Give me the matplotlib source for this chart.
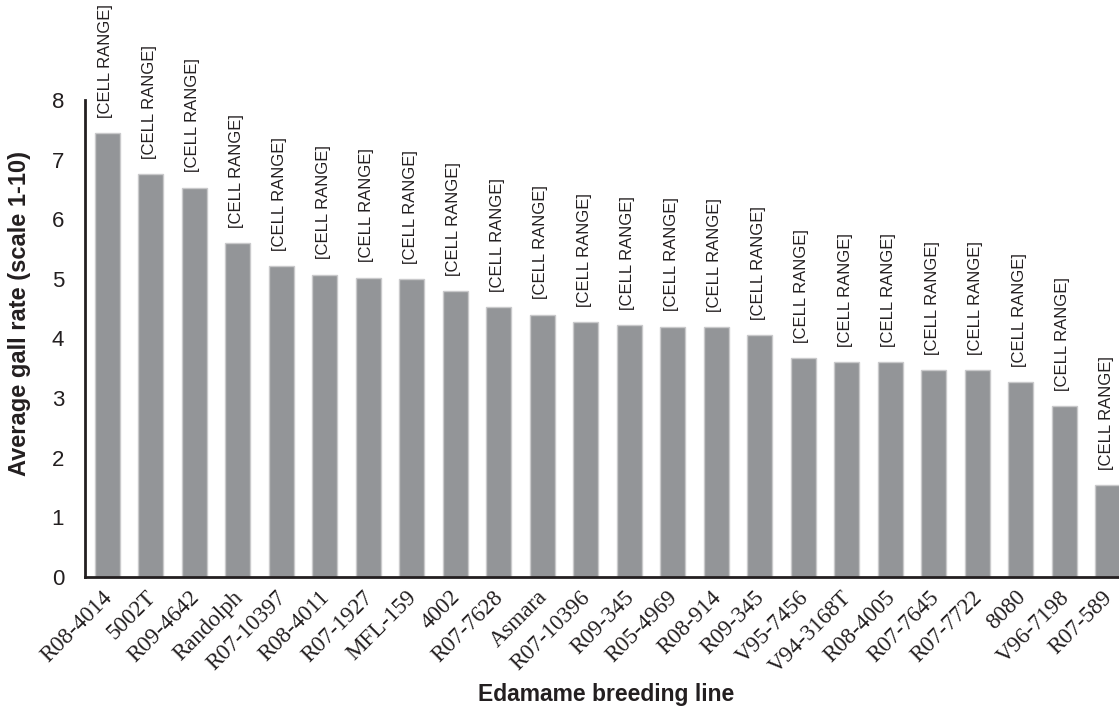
import numpy as np
import matplotlib.pyplot as plt
import matplotlib.transforms as mtransforms

# edamame lines, sorted by gall rate
lines = ['R08-4014', '5002T', 'R09-4642', 'Randolph', 'R07-10397', 'R08-4011',
         'R07-1927', 'MFL-159', '4002', 'R07-7628', 'Asmara', 'R07-10396',
         'R09-345', 'R05-4969', 'R08-914', 'R09-345', 'V95-7456', 'V94-3168T',
         'R08-4005', 'R07-7645', 'R07-7722', '8080', 'V96-7198', 'R07-589']
gall_rate = [7.45, 6.76, 6.53, 5.60, 5.21, 5.07, 5.02, 4.99, 4.80, 4.53, 4.40, 4.27,
             4.23, 4.20, 4.19, 4.06, 3.67, 3.60, 3.60, 3.47, 3.47, 3.27, 2.87, 1.54]
bar_labels = ['[CELL RANGE]'] * len(lines)

fig = plt.figure(figsize=(11.19, 7.11), dpi=100)
ax = fig.add_axes([85/1119, 134/711, 1 - 85/1119, 477/711])

x = np.arange(len(lines))
ax.bar(x, gall_rate, width=0.575, color='#939598', edgecolor='#c9c9cb', linewidth=1)

for xi, yi, lab in zip(x, gall_rate, bar_labels):
    ax.annotate(lab, (xi, yi), xytext=(-1, 11), textcoords='offset points',
                rotation=90, ha='center', va='bottom', fontsize=12,
                family='Liberation Sans', color='#231f20')

ax.set_xlim(-0.506, 23.26)
ax.set_ylim(0, 8)
ax.set_yticks(range(9))
ax.tick_params(axis='y', length=0, pad=15, labelsize=16, labelcolor='#231f20')
ax.set_xticks(x)
ax.set_xticklabels(lines, rotation=45, ha='right', rotation_mode='anchor',
                   family='Liberation Serif', fontsize=16.5, color='#231f20')
ax.tick_params(axis='x', length=0, pad=7)
for t in ax.get_yticklabels():
    t.set_family('Liberation Sans')

# nudge the slanted labels a bit left so the last one stays inside
shift = mtransforms.ScaledTranslation(-4/72, 0, fig.dpi_scale_trans)
for t in ax.get_xticklabels():
    t.set_transform(t.get_transform() + shift)

for s in ['top', 'right']:
    ax.spines[s].set_visible(False)
for s in ['left', 'bottom']:
    ax.spines[s].set_linewidth(2)
    ax.spines[s].set_color('#231f20')

fig.text(20/1119, 1 - 313/711, 'Average gall rate (scale 1-10)', rotation=90,
         ha='center', va='center', fontsize=17, fontweight='bold',
         family='Liberation Sans', color='#231f20')
fig.text(606/1119, 1 - 695/711, 'Edamame breeding line', ha='center', va='center',
         fontsize=16.5, fontweight='bold', family='Liberation Sans', color='#231f20')

fig.savefig('out.png', dpi=100)
